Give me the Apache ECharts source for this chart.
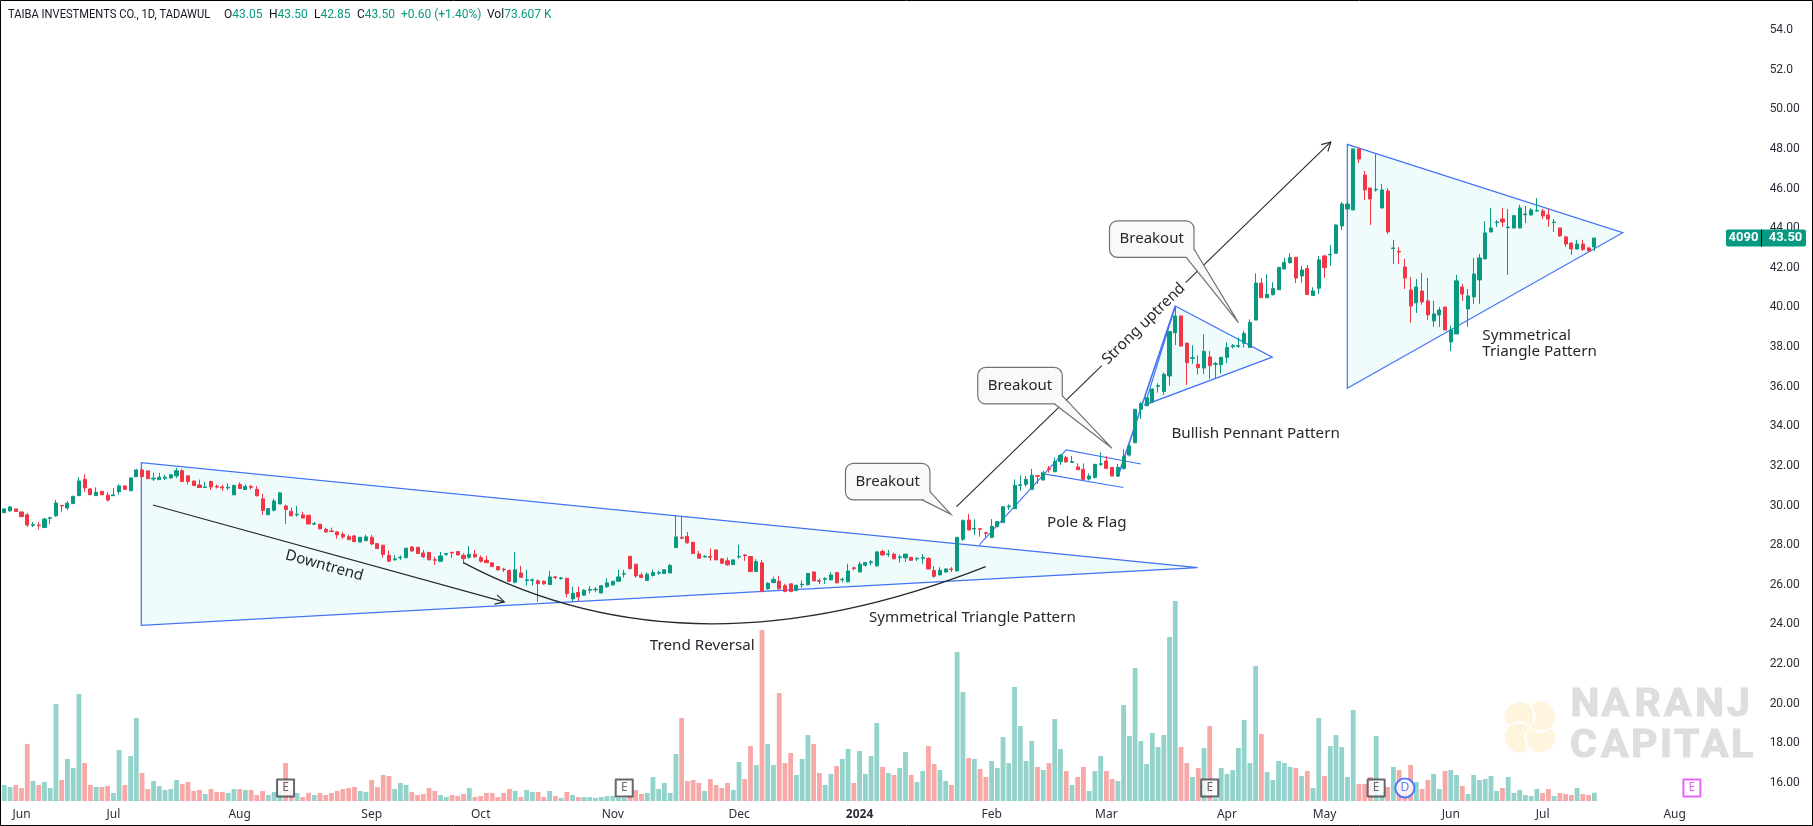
<!DOCTYPE html>
<html>
<head>
<meta charset="utf-8">
<title>TAIBA INVESTMENTS CO.</title>
<script src="https://cdn.jsdelivr.net/npm/echarts@6/dist/echarts.min.js"></script>
<style>
html,body{margin:0;padding:0;background:#fff;}
#main{width:1813px;height:826px;}
</style>
</head>
<body>
<div id="main"></div>
<script>
// daily bars: [open, close, low, high]
var ohlc = [
[29.64,29.83,29.63,29.86],[29.73,29.93,29.70,29.98],[29.83,29.70,29.70,29.83],[29.68,29.44,29.44,29.68],[29.53,29.02,28.92,29.63],[29.01,29.04,28.92,29.17],[29.02,28.99,28.79,29.17],[28.89,29.32,28.87,29.37],[29.36,29.39,29.07,29.43],[29.48,30.13,29.44,30.28],
[30.01,29.98,29.68,30.03],[29.88,30.12,29.78,30.22],[30.10,30.47,30.10,30.47],[30.50,31.24,30.49,31.43],[31.33,30.89,30.69,31.58],[30.84,30.55,30.54,30.89],[30.50,30.67,30.49,30.92],[30.72,30.54,30.54,30.72],[30.52,30.28,30.20,30.67],[30.50,30.54,30.49,30.87],
[30.70,30.99,30.54,31.07],[30.99,30.82,30.79,31.02],[30.75,31.39,30.74,31.43],[31.46,31.80,31.44,31.85],[31.80,31.46,31.43,31.95],[31.75,31.36,31.36,31.75],[31.34,31.38,31.24,31.66],[31.31,31.43,31.29,31.65],[31.38,31.43,31.29,31.55],[31.39,31.55,31.36,31.60],
[31.50,31.76,31.39,31.90],[31.76,31.21,31.19,31.85],[31.50,31.21,31.06,31.50],[31.24,31.01,31.01,31.24],[31.04,30.91,30.89,31.31],[30.91,30.94,30.89,31.19],[31.21,30.94,30.79,31.26],[30.97,30.94,30.86,31.06],[30.94,30.89,30.74,31.06],[30.89,30.92,30.79,31.12],
[30.54,31.02,30.54,31.02],[31.07,30.86,30.84,31.17],[30.81,30.96,30.79,31.06],[30.96,30.92,30.81,31.04],[30.82,30.49,30.47,30.99],[30.33,29.75,29.53,30.59],[29.54,29.85,29.54,29.85],[29.76,30.23,29.70,30.35],[30.08,30.64,30.08,30.69],[29.98,29.80,29.07,30.05],
[29.71,29.48,29.48,29.90],[29.53,29.56,29.44,29.98],[29.53,29.37,29.37,29.68],[29.51,29.07,29.07,29.51],[29.06,29.09,29.04,29.17],[29.06,28.82,28.82,29.06],[28.80,28.67,28.62,28.87],[28.72,28.69,28.67,28.89],[28.67,28.52,28.33,28.72],[28.55,28.42,28.32,28.67],
[28.43,28.28,28.27,28.52],[28.47,28.18,28.16,28.52],[28.16,28.40,28.16,28.40],[28.23,28.42,28.20,28.52],[28.40,28.06,28.01,28.52],[28.08,27.83,27.83,28.08],[28.00,27.53,27.37,28.00],[27.49,27.19,27.16,27.74],[27.27,27.31,27.21,27.51],[27.36,27.39,27.26,27.48],
[27.37,27.85,27.37,27.85],[27.91,27.71,27.66,27.96],[27.90,27.58,27.58,27.90],[27.61,27.41,27.36,27.76],[27.64,27.26,27.26,27.64],[27.27,27.24,27.00,27.42],[27.19,27.46,27.16,27.66],[27.54,27.58,27.46,27.60],[27.64,27.61,27.36,27.66],[27.68,27.51,27.48,27.71],
[27.49,27.32,27.07,27.59],[27.39,27.54,27.31,27.96],[27.54,27.41,27.36,27.76],[27.37,27.19,27.12,27.48],[27.24,27.12,27.11,27.46],[27.11,26.92,26.92,27.11],[26.92,26.75,26.75,26.92],[26.79,26.76,26.65,26.86],[26.72,26.17,26.15,26.79],[26.13,26.76,26.08,27.65],
[26.60,26.38,26.35,26.96],[26.22,26.25,25.97,26.76],[26.22,26.25,25.97,26.33],[26.20,26.06,25.14,26.28],[26.18,26.05,26.00,26.22],[26.01,26.40,26.00,26.70],[26.40,26.37,26.28,26.45],[26.32,26.35,26.25,26.40],[26.33,25.56,25.36,26.35],[25.29,25.58,25.16,25.90],
[25.61,25.39,25.19,25.91],[25.48,25.73,25.44,25.78],[25.73,25.76,25.56,25.93],[25.75,25.78,25.63,25.88],[25.59,25.95,25.58,25.98],[25.90,26.10,25.85,26.33],[26.00,26.18,25.95,26.20],[26.18,26.40,26.17,26.76],[26.54,26.57,26.37,26.76],[27.44,26.82,26.76,27.46],
[27.04,26.45,26.37,27.07],[26.50,26.37,26.33,26.62],[26.22,26.54,26.20,26.62],[26.47,26.62,26.42,26.76],[26.59,26.62,26.50,26.72],[26.57,26.76,26.55,26.79],[26.60,26.97,26.60,27.06],[27.88,28.42,27.88,29.50],[28.40,28.35,28.30,29.46],[28.45,28.12,28.07,28.67],
[28.15,27.58,27.55,28.17],[27.56,27.34,27.31,27.71],[27.41,27.44,27.38,27.49],[27.43,27.39,27.21,27.83],[27.76,27.26,27.26,27.76],[27.31,27.09,27.06,27.34],[27.21,27.01,26.97,27.39],[27.02,27.26,27.02,27.26],[27.41,27.44,27.31,28.02],[27.51,27.48,27.21,27.55],
[27.43,26.67,26.67,27.43],[26.67,27.18,26.65,27.29],[27.11,25.66,25.64,27.26],[25.80,26.08,25.75,26.13],[26.12,26.27,26.08,26.42],[26.18,25.80,25.76,26.45],[25.95,25.66,25.63,26.05],[26.05,25.66,25.66,26.05],[25.71,25.98,25.70,26.01],[26.00,26.03,25.85,26.22],
[26.00,26.57,25.98,26.60],[26.65,26.20,26.18,26.67],[26.22,26.18,26.03,26.33],[26.28,26.32,26.05,26.38],[26.25,26.50,26.23,26.64],[26.62,26.10,26.08,26.64],[26.25,26.28,26.13,26.37],[26.15,26.70,26.13,27.06],[26.86,26.82,26.72,26.92],[26.65,27.04,26.64,27.16],
[26.99,27.12,26.92,27.16],[27.12,27.16,26.99,27.24],[26.96,27.66,26.91,27.70],[27.68,27.51,27.46,27.78],[27.53,27.56,27.41,27.76],[27.55,27.31,27.29,27.63],[27.38,27.41,27.12,27.53],[27.36,27.55,27.16,27.55],[27.39,27.24,27.21,27.41],[27.31,27.34,27.19,27.38],
[27.34,27.38,27.06,27.55],[27.33,26.80,26.79,27.39],[26.72,26.43,26.35,26.94],[26.50,26.74,26.49,26.89],[26.65,26.80,26.60,26.84],[26.80,26.77,26.64,26.89],[26.70,28.40,26.70,28.40],[28.30,29.24,28.21,29.31],[29.27,28.77,28.75,29.57],[28.82,28.85,28.52,29.31],
[28.83,28.80,28.43,28.87],[28.63,28.60,28.35,28.67],[28.40,28.95,28.35,29.32],[28.94,29.19,28.90,29.22],[29.14,29.94,29.12,29.98],[29.94,29.98,29.78,30.06],[29.84,31.02,29.83,31.32],[31.02,31.05,30.75,31.53],[31.07,31.32,30.95,31.49],[30.82,31.53,30.79,31.85],
[31.51,31.48,31.09,31.51],[31.29,31.66,31.26,31.76],[31.86,31.83,31.66,32.00],[31.71,32.22,31.68,32.43],[32.22,32.54,32.05,32.60],[32.43,32.20,32.17,32.50],[32.18,32.22,32.15,32.50],[31.95,31.81,31.80,32.13],[31.83,31.32,31.26,32.13],[31.34,31.49,31.27,31.63],
[31.42,32.08,31.36,32.10],[32.08,32.11,32.00,32.69],[32.25,31.88,31.83,32.50],[31.93,31.49,31.49,31.93],[31.49,31.93,31.46,32.10],[31.86,32.47,31.83,32.85],[32.55,33.01,32.47,33.07],[33.17,34.86,33.17,34.86],[34.86,35.14,34.37,35.24],[35.04,35.44,35.02,35.48],
[35.21,35.88,35.18,35.92],[36.02,36.05,35.70,36.17],[35.76,36.62,35.58,36.72],[36.54,38.78,36.05,38.79],[38.72,39.57,38.10,40.00],[39.57,38.05,38.02,39.60],[38.20,37.21,36.08,38.20],[37.43,37.46,37.16,38.09],[37.13,36.96,36.61,37.58],[36.94,37.78,36.64,38.64],
[37.50,37.06,36.40,37.80],[37.13,37.16,36.44,37.25],[37.11,37.48,36.67,37.50],[37.48,37.98,37.19,38.24],[38.02,38.07,37.93,38.15],[38.04,38.07,37.95,38.49],[38.19,38.69,37.98,38.83],[37.98,39.25,37.95,39.40],[39.36,41.23,39.36,41.72],[41.23,40.49,40.47,41.47],
[40.49,40.66,40.47,41.67],[40.64,40.96,40.61,41.28],[40.89,42.02,40.89,42.02],[41.94,42.27,41.92,42.51],[42.26,42.51,42.21,42.73],[42.53,41.48,41.23,42.53],[41.59,41.89,41.24,42.09],[41.97,40.65,40.63,42.14],[40.60,40.83,40.58,41.02],[40.97,42.40,40.68,42.60],
[42.60,42.01,41.49,42.65],[42.65,42.68,42.11,43.15],[42.73,44.16,42.71,44.20],[44.11,45.22,43.91,45.32],[44.97,45.22,44.95,45.34],[44.92,48.00,44.92,48.00],[48.00,47.49,47.29,48.03],[46.68,45.93,45.42,46.89],[46.03,45.47,44.16,46.03],[45.93,45.96,45.84,47.73],
[45.02,45.93,45.00,46.23],[45.88,43.81,43.71,46.01],[42.97,43.00,42.19,43.41],[42.83,42.80,42.19,43.05],[42.04,41.49,40.93,42.45],[40.88,40.07,39.22,41.54],[40.23,41.03,39.72,41.44],[40.83,40.28,40.13,41.74],[40.33,39.62,39.37,41.49],[39.32,39.67,39.02,40.33],
[39.62,39.87,39.02,40.02],[40.02,38.86,38.86,40.02],[38.26,38.86,37.80,39.07],[38.66,41.34,38.66,41.64],[41.03,40.68,40.33,41.19],[39.92,40.58,39.02,40.93],[40.53,41.69,40.18,42.50],[41.39,42.50,40.18,42.70],[42.45,43.76,42.43,44.36],[43.81,44.01,43.79,45.02],
[44.28,44.31,44.06,44.41],[44.46,44.31,44.06,45.02],[44.03,44.06,41.64,44.97],[44.01,44.63,43.99,44.67],[44.01,45.02,43.99,45.17],[44.68,44.72,44.26,45.12],[44.67,44.92,44.62,45.02],[44.87,44.90,44.82,45.52],[44.87,44.62,44.46,44.97],[44.67,44.46,44.06,44.97],
[44.28,44.31,43.81,44.46],[44.01,43.61,43.56,44.01],[43.56,43.20,43.05,43.61],[43.25,42.95,42.65,43.25],[42.95,43.20,42.93,43.41],[43.20,42.93,42.85,43.41],[43.00,42.85,42.80,43.05],[43.05,43.50,42.85,43.50]
];
// volume in thousands
var volumes = [
142,124,142,115,506,177,142,169,115,860,186,373,293,949,337,142,124,124,133,71,
452,142,399,736,248,106,177,133,98,106,186,151,169,89,98,62,106,80,80,71,
106,106,98,98,53,89,53,80,89,337,98,71,35,71,53,71,53,71,89,106,
115,124,89,80,186,124,231,222,106,160,142,80,53,62,115,89,53,35,53,44,
62,115,35,44,71,71,35,71,106,89,35,98,80,80,35,89,44,27,80,53,
35,35,35,27,35,44,44,27,27,44,98,62,71,213,106,160,71,417,736,177,
186,160,89,195,142,115,160,98,346,195,488,319,1517,506,319,958,337,426,231,373,
585,506,248,142,240,310,373,461,160,444,240,399,692,302,248,231,293,435,231,169,
266,488,328,275,177,142,1322,967,381,373,284,213,355,293,568,337,1011,665,355,532,
302,275,337,727,461,266,142,213,302,89,266,399,266,195,177,852,577,1180,532,328,
603,479,585,1455,1774,479,337,213,293,470,665,24,293,240,275,470,719,337,1198,594,
257,186,355,337,302,293,222,266,115,736,222,488,585,479,213,807,151,151,213,577,
83,124,302,275,89,319,169,106,186,240,106,266,275,231,133,62,231,186,195,222,
89,115,213,71,98,53,44,106,71,106,44,71,62,53,115,62,53,73.6
];
var totalBars = 307; // includes empty future bars on the right
var monthBars = [3,19,41,64,83,106,128,149,172,192,213,230,252,268,291];
var monthLabels = ['Jun','Jul','Aug','Sep','Oct','Nov','Dec','2024','Feb','Mar','Apr','May','Jun','Jul','Aug'];
var priceTicks = {min:14, max:55.5, step:2};

// drawings, in [bar, price]
var bigTriangle = [[23.87,32.17],[23.87,23.96],[207.9,26.87]];
var pennant = [[204.0,40.07],[220.9,37.49],[198.7,35.08]];
var rightTriangle = [[233.97,48.23],[233.97,35.92],[281.95,43.77]];
var flagPole = [[169.86,28.02],[185.0,32.81],[198.0,32.10]];
var flagBase = [[181.1,31.60],[194.95,30.91]];
var pennantPole = [[194.0,31.46],[204.0,40.07]];
var downArrow = [[25.9,30.03],[87.1,25.14]];
var upArrowFoot = [[165.9,29.95],[191.2,37.06]];
var upArrowHead = [[205.8,41.25],[231.1,48.35]];
var reversalArc = {from:[79.96,27.12], ctrl:[119.5,21.05], to:[170.97,26.92]};
var callouts = [
	{box:[153.9,31.21], tip:[164.9,29.56]},
	{box:[176.95,36.05], tip:[193.0,32.89]},
	{box:[199.9,43.45], tip:[215.0,39.23]}
];
var notes = [
	{text:'Downtrend', at:[55.75,26.97], angle:-15.5},
	{text:'Strong uptrend', at:[198.5,39.17], angle:44.3},
	{text:'Trend Reversal', at:[121.6,22.94], angle:0},
	{text:'Symmetrical Triangle Pattern', at:[168.66,24.35], angle:0},
	{text:'Pole & Flag', at:[188.6,29.14], angle:0},
	{text:'Bullish Pennant Pattern', at:[218.0,33.63], angle:0},
	{text:'Symmetrical\nTriangle Pattern', at:[257.5,38.17], angle:0, align:'left'}
];
var badges = [
	{bar:49, text:'E', kind:'past'},
	{bar:108, text:'E', kind:'past'},
	{bar:210, text:'E', kind:'past'},
	{bar:239, text:'E', kind:'past'},
	{bar:244, text:'D', kind:'div'},
	{bar:294, text:'E', kind:'next'}
];

// top line of the chart
var headerParts = [
	{x:8, text:'{n|TAIBA INVESTMENTS CO., 1D, TADAWUL}', squeeze:0.93},
	{x:224, text:'{n|O}{v|43.05}'},
	{x:269, text:'{n|H}{v|43.50}'},
	{x:314, text:'{n|L}{v|42.85}'},
	{x:357, text:'{n|C}{v|43.50}'},
	{x:401, text:'{v|+0.60 (+1.40%)}'},
	{x:487, text:'{n|Vol}{v|73.607 K}'}
];
// watermark letters and where each one starts
var markTop = {letters:['N','A','R','A','N','J'], xs:[1570.5,1601.5,1634.5,1664,1695,1727]};
var markBottom = {letters:['C','A','P','I','T','A','L'], xs:[1570,1601,1631,1660,1674,1701,1731]};

var UP='#089981', DOWN='#F23645', UP_VOL='#93d3cb', DOWN_VOL='#f7a9a8';
var BLUE='#3f72f5', TINT='#f0fbfb', INK='#26282e', FONT='"Noto Sans", sans-serif';
var categories = [];
for (var i=0;i<totalBars;i++) categories.push(String(i));

function stroke(width,color){
	return {stroke:color||BLUE, fill:null, lineWidth:width};
}
function line(api,pts,width,color){
	return {type:'polyline', shape:{points:pts.map(function(p){return api.coord(p);})}, style:stroke(width,color)};
}
function arrowTip(api,seg){
	var a=api.coord(seg[0]), b=api.coord(seg[1]);
	var ang=Math.atan2(b[1]-a[1],b[0]-a[0]), len=10, open=0.5;
	return {type:'polyline', shape:{points:[
		[b[0]-len*Math.cos(ang-open),b[1]-len*Math.sin(ang-open)],b,
		[b[0]-len*Math.cos(ang+open),b[1]-len*Math.sin(ang+open)]
	]}, style:stroke(1.1,INK)};
}
function overlay(name,z,items,draw){
	return {name:name, type:'custom', xAxisIndex:2, yAxisIndex:0, z:z, silent:true,
		data:items.map(function(_,k){return [k,30];}),
		renderItem:function(params,api){return draw(items[params.dataIndex],api);}};
}

var series = [
	{name:'volume', type:'bar', xAxisIndex:1, yAxisIndex:1, barWidth:4.8, silent:true, z:2,
		data:volumes,
		itemStyle:{color:function(p){return ohlc[p.dataIndex][1]>=ohlc[p.dataIndex][0]?UP_VOL:DOWN_VOL;}}},
	overlay('patterns',1,[bigTriangle,pennant,rightTriangle],function(tri,api){
		return {type:'polygon', shape:{points:tri.map(function(p){return api.coord(p);})},
			style:{fill:TINT, stroke:BLUE, lineWidth:1.2}};
	}),
	overlay('flag',1,[[flagPole,1.1],[flagBase,1.1],[pennantPole,1.6]],function(it,api){
		return line(api,it[0],it[1]);
	}),
	{name:'price', type:'candlestick', xAxisIndex:0, yAxisIndex:0, barWidth:3.6, silent:true, z:2,
		data:ohlc,
		itemStyle:{color:UP, color0:DOWN, borderColor:UP, borderColor0:DOWN, borderWidth:1}},
	overlay('arrows',3,[0],function(_,api){
		var a=api.coord(reversalArc.from), c=api.coord(reversalArc.ctrl), b=api.coord(reversalArc.to);
		return {type:'group', children:[
			line(api,downArrow,1.1,INK), arrowTip(api,downArrow),
			line(api,upArrowFoot,1.1,INK), line(api,upArrowHead,1.1,INK), arrowTip(api,upArrowHead),
			{type:'bezierCurve', shape:{x1:a[0],y1:a[1],x2:b[0],y2:b[1],cpx1:c[0],cpy1:c[1]}, style:stroke(1.2,INK)}
		]};
	}),
	overlay('callouts',4,callouts,function(c,api){
		var m=api.coord(c.box), t=api.coord(c.tip), w=84.5, h=36.5;
		var p1=[m[0]+w/2,m[1]+10], p2=[m[0]+34.5,m[1]+h/2];
		return {type:'group', children:[
			{type:'rect', shape:{x:m[0]-w/2,y:m[1]-h/2,width:w,height:h,r:8}, style:{fill:'#f9f9f9',stroke:'#70717a',lineWidth:1.2}},
			{type:'polygon', shape:{points:[[p1[0]-1,p1[1]],t,[p2[0],p2[1]-1],[p2[0]-2,p2[1]-4]]}, style:{fill:'#f9f9f9'}},
			{type:'polyline', shape:{points:[p1,t,p2]}, style:stroke(1.2,'#70717a')},
			{type:'text', x:m[0], y:m[1], style:{text:'Breakout', fill:INK, font:'15px '+FONT, align:'center', verticalAlign:'middle'}}
		]};
	}),
	overlay('notes',5,notes,function(n,api){
		var p=api.coord(n.at);
		return {type:'text', x:p[0], y:p[1], rotation:n.angle*Math.PI/180,
			style:{text:n.text, fill:INK, font:'15.2px '+FONT, lineHeight:16, align:n.align||'center', verticalAlign:'middle'}};
	}),
	{name:'events', type:'scatter', xAxisIndex:1, yAxisIndex:1, z:6, silent:true,
		data:badges.map(function(b){
			var col=b.kind==='div'?'#2962ff':(b.kind==='next'?'#e040fb':'#3f4149');
			return {value:[b.bar,115], symbol:b.kind==='div'?'circle':'rect', symbolSize:b.kind==='div'?19:17,
				itemStyle:{color:'#fff',borderColor:col,borderWidth:2,borderJoin:'round'},
				label:{show:true,position:'inside',formatter:b.text,color:col,fontSize:12,fontFamily:FONT}};
		})},
	{name:'lastPrice', type:'custom', xAxisIndex:2, yAxisIndex:0, z:7, silent:true,
		data:[[0,ohlc[ohlc.length-1][1]]],
		renderItem:function(params,api){
			var y=api.coord([0,api.value(1)])[1];
			return {type:'group', children:[
				{type:'rect', shape:{x:1726,y:y-8.5,width:80,height:17,r:2}, style:{fill:UP}},
				{type:'line', shape:{x1:1761.5,y1:y-8.5,x2:1761.5,y2:y+8.5}, style:{stroke:'#000',lineWidth:1}},
				{type:'text', x:1743.5, y:y, style:{text:'4090', fill:'#fff', font:'bold 13px Roboto', align:'center', verticalAlign:'middle'}},
				{type:'text', x:1785.5, y:y, style:{text:api.value(1).toFixed(2), fill:'#fff', font:'bold 13px Roboto', align:'center', verticalAlign:'middle'}}
			]};
		}}
];

var logoPetal = [[-25,-6],[-23,-18],[-12,-25],[-1,-22],[3,-12],[1,-1],[-4,-4],[-11,-6],[-20,-3]];
var graphicItems = [
	{type:'rect', z:100, shape:{x:0.5,y:0.5,width:1812,height:825}, style:{fill:'transparent',stroke:'#000',lineWidth:1}}
];
headerParts.forEach(function(h){
	graphicItems.push({type:'text', x:h.x, y:15, scaleX:h.squeeze||1, style:{
		text:h.text, verticalAlign:'middle',
		rich:{n:{fill:'#131722',font:'12px Roboto'},v:{fill:UP,font:'12px Roboto'}}
	}});
});
[[markTop,706],[markBottom,747]].forEach(function(row){
	row[0].letters.forEach(function(ch,k){
		graphicItems.push({type:'text', x:row[0].xs[k], y:row[1], scaleX:1.05,
			style:{text:ch, fill:'#dedede', stroke:'#dedede', lineWidth:1.2, font:'bold 39px Roboto', verticalAlign:'middle'}});
	});
});
[0,1,2,3].forEach(function(k){
	graphicItems.push({type:'polygon', x:1530, y:727, rotation:-k*Math.PI/2,
		shape:{points:logoPetal, smooth:0.4}, style:{fill:'#fff4dd'}});
});

var myChart = echarts.init(document.getElementById('main'));
var hiddenAxis = {axisLine:{show:false},axisTick:{show:false},axisLabel:{show:false},splitLine:{show:false}};
var option = {
	animation:false,
	backgroundColor:'#fff',
	graphic:graphicItems,
	grid:[
		{left:1.43, right:49.37, top:0.3, bottom:3.4},
		{left:1.43, right:49.37, top:601, bottom:25}
	],
	xAxis:[
		Object.assign({type:'category', gridIndex:0, data:categories}, hiddenAxis),
		{type:'category', gridIndex:1, data:categories,
			axisLine:{show:false}, axisTick:{show:false}, splitLine:{show:false},
			axisLabel:{
				margin:8, color:'#2a2e39', fontSize:12, fontFamily:FONT,
				interval:function(idx){return monthBars.indexOf(idx)>=0;},
				formatter:function(v){
					var t=monthLabels[monthBars.indexOf(Number(v))];
					return t==='2024'?'{b|2024}':t;
				},
				rich:{b:{fontWeight:'bold',color:'#2a2e39',fontSize:12,fontFamily:FONT}}
			}},
		Object.assign({type:'value', gridIndex:0, min:-0.5, max:totalBars-0.5}, hiddenAxis)
	],
	yAxis:[
		{type:'value', gridIndex:0, position:'right', min:priceTicks.min, max:priceTicks.max, interval:priceTicks.step,
			axisLine:{show:false}, axisTick:{show:false}, splitLine:{show:false},
			axisLabel:{margin:6, color:'#2a2e39', fontSize:12, fontFamily:'Roboto',
				formatter:function(v){
					if(v<16||v>54) return '';
					return v>=52 ? v.toFixed(1) : v.toFixed(2);
				}}},
		Object.assign({type:'value', gridIndex:1, min:0, max:1774}, hiddenAxis)
	],
	series:series
};
myChart.setOption(option);
</script>
</body>
</html>
